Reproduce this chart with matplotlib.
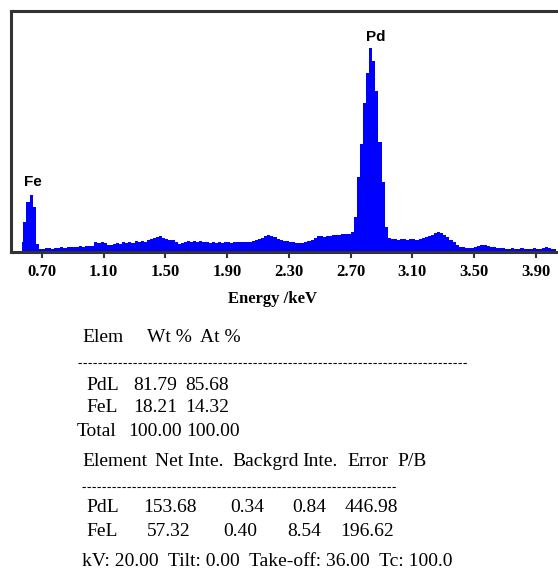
import matplotlib
matplotlib.use("Agg")
import matplotlib.pyplot as plt
import numpy as np

# EDS spectrum, channel width 0.02 keV starting at 0.57 keV
e_start = 0.57
e_step = 0.02
counts = [
    50, 150, 250, 285, 225, 40, 15, 15, 20, 20, 15, 20, 20, 25, 20, 25,
    25, 25, 25, 30, 25, 30, 30, 30, 50, 45, 50, 45, 35, 35, 40, 45,
    40, 50, 45, 50, 45, 55, 50, 55, 50, 60, 65, 70, 75, 80, 70, 65,
    60, 60, 50, 40, 45, 50, 55, 50, 55, 50, 55, 50, 50, 45, 50, 45,
    50, 45, 50, 50, 45, 50, 50, 50, 50, 50, 50, 55, 60, 65, 70, 80,
    85, 80, 75, 65, 60, 55, 55, 50, 50, 45, 45, 45, 50, 55, 60, 70,
    80, 80, 75, 80, 80, 85, 85, 85, 90, 90, 90, 100, 175, 375, 540, 740,
    890, 1015, 950, 800, 550, 350, 125, 70, 65, 65, 60, 65, 65, 60, 65, 65,
    60, 65, 70, 75, 80, 85, 95, 100, 95, 85, 75, 60, 50, 35, 25, 25,
    20, 20, 20, 25, 30, 35, 35, 30, 25, 25, 20, 20, 20, 15, 15, 20,
    15, 15, 20, 15, 15, 15, 20, 15, 15, 20, 25, 20, 15, 15,
]
energy = e_start + e_step * np.arange(len(counts))

peak_labels = ["Fe", "Pd"]
peak_pos = [0.64, 2.86]
peak_height = [315, 1035]

tick_vals = [0.70, 1.10, 1.50, 1.90, 2.30, 2.70, 3.10, 3.50, 3.90]

# quantification table
elems = ["PdL", "FeL"]
wt_pct = ["81.79", "18.21"]
at_pct = ["85.68", "14.32"]
net_inte = ["153.68", "57.32"]
backgrd = ["0.34", "0.40"]
inte_err = ["0.84", "8.54"]
pb = ["446.98", "196.62"]

W, H = 558, 570
fig = plt.figure(figsize=(W / 100, H / 100), dpi=100)
ax = fig.add_axes([11 / W, (H - 252) / H, (W - 11) / W, 241 / H])

ax.fill_between(energy, counts, step="mid", color="#0000ff", lw=0)
ax.set_xlim(0.5, 4.043)
ax.set_ylim(0, 1200)
ax.set_yticks([])
ax.set_xticks(tick_vals)
ax.set_xticklabels(["%.2f" % v for v in tick_vals], fontfamily="Liberation Serif",
                   fontweight="bold", fontsize=12)
ax.tick_params(axis="x", direction="out", length=4, width=1.5, pad=5, color="#333333")
for s in ["left", "top", "bottom"]:
    ax.spines[s].set_linewidth(2.2)
    ax.spines[s].set_color("#333333")
ax.spines["right"].set_visible(False)
ax.set_xlabel("Energy /keV", fontfamily="Liberation Serif", fontweight="bold",
              fontsize=12)
ax.xaxis.set_label_coords((272 - 11) / (W - 11), -0.16)

for lab, x, y in zip(peak_labels, peak_pos, peak_height):
    ax.text(x, y, lab, ha="center", va="bottom", fontfamily="Liberation Sans",
            fontweight="bold", fontsize=11)


def txt(x, y, s, **kw):
    fig.text(x / W, 1 - y / H, s, va="center", ha="left",
             fontfamily="Liberation Serif", fontsize=14, **kw)


def dash(x0, x1, y):
    fig.add_artist(plt.Line2D([x0 / W, x1 / W], [1 - y / H, 1 - y / H],
                              color="black", lw=0.8, linestyle=(0, (3, 1.5))))


txt(82, 337, "Elem")
txt(147, 337, "Wt %")
txt(200, 337, "At %")
dash(78, 468, 363)
rows_y = [385, 408]
for i in range(2):
    txt(86, rows_y[i], elems[i])
    txt(133, rows_y[i], wt_pct[i])
    txt(185, rows_y[i], at_pct[i])
txt(77, 431, "Total")
txt(128, 431, "100.00")
txt(186, 431, "100.00")

txt(82, 462, "Element")
txt(155, 462, "Net Inte.")
txt(232, 462, "Backgrd")
txt(302, 462, "Inte.")
txt(347, 462, "Error")
txt(397, 462, "P/B")
dash(82, 397, 487)
rows_y2 = [508, 532]
cols_x = [[143, 230, 292, 345], [147, 223, 287, 340]]
for i in range(2):
    txt(86, rows_y2[i], elems[i])
    for x, v in zip(cols_x[i], [net_inte[i], backgrd[i], inte_err[i], pb[i]]):
        txt(x, rows_y2[i], v)

txt(82, 562, "kV: 20.00  Tilt: 0.00  Take-off: 36.00  Tc: 100.0")

fig.savefig("out.png", dpi=100)
